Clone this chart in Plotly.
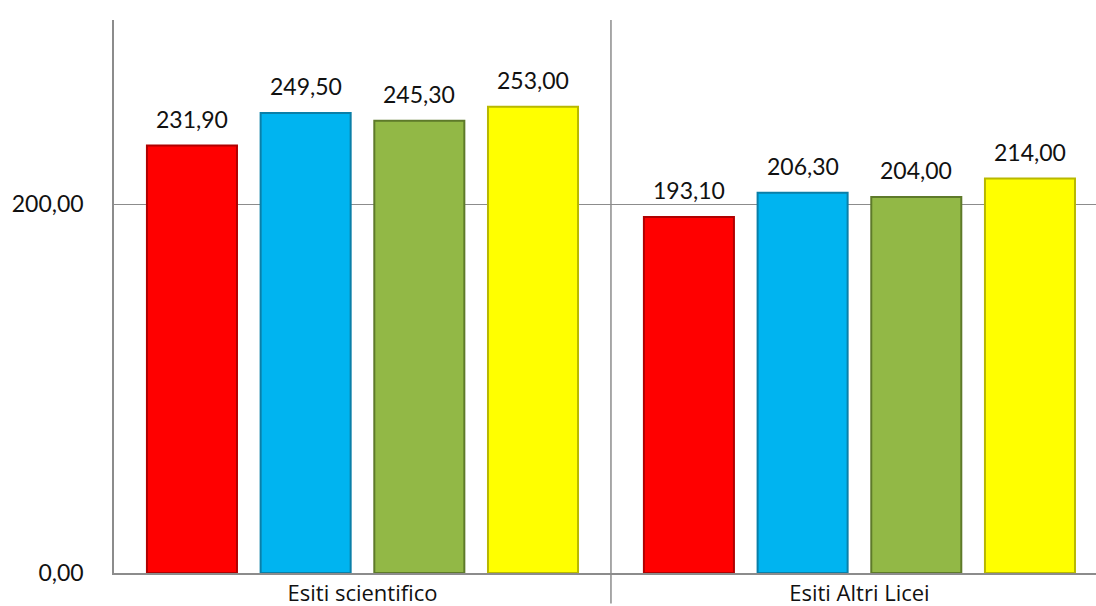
import plotly.graph_objects as go

# Results per category, one series per colour
categories = ["Esiti scientifico", "Esiti Altri Licei"]
series_names = ["Serie 1", "Serie 2", "Serie 3", "Serie 4"]
series_values = [
    [231.90, 193.10],
    [249.50, 206.30],
    [245.30, 204.00],
    [253.00, 214.00],
]
fill_colors = ["#FF0000", "#00B4F0", "#92B846", "#FFFF00"]
edge_colors = ["#B00000", "#0A7FA8", "#5E7A2A", "#B8B800"]

y_ticks = [0, 200]

BARGAP = 0.085
BARGROUPGAP = 0.208

fig = go.Figure()
for name, vals, fc, ec in zip(series_names, series_values, fill_colors, edge_colors):
    fig.add_trace(go.Bar(
        x=categories,
        y=vals,
        name=name,
        marker=dict(color=fc, line=dict(color=ec, width=2)),
    ))

# Value labels above each bar, placed at the centre of its slot in the group
n_series = len(series_values)
slot = (1 - BARGAP) / n_series
for i, vals in enumerate(series_values):
    offset = (i - (n_series - 1) / 2) * slot
    for j, v in enumerate(vals):
        fig.add_annotation(
            x=j + offset, y=v, xref="x", yref="y",
            text=f"{v:.2f}".replace(".", ","),
            showarrow=False, yanchor="bottom", yshift=11,
            font=dict(family="Lato", size=23, color="#111111"),
        )

fig.update_layout(
    width=1096,
    height=606,
    margin=dict(l=114, r=0, t=20, b=33),
    paper_bgcolor="white",
    plot_bgcolor="white",
    barmode="group",
    bargap=BARGAP,
    bargroupgap=BARGROUPGAP,
    separators=",.",
    showlegend=False,
    font=dict(family="Lato", color="#111111"),
)

fig.update_xaxes(
    type="category",
    range=[-0.5, 1.476],
    showline=True,
    linecolor="#8C8C8C",
    linewidth=1.5,
    showgrid=False,
    ticks="",
    tickfont=dict(family="Open Sans", size=22, color="#111111"),
    ticklabelstandoff=0,
)

fig.update_yaxes(
    range=[0, 300],
    tickvals=y_ticks,
    tickformat=".2f",
    showline=True,
    linecolor="#8C8C8C",
    linewidth=1.5,
    showgrid=True,
    gridcolor="#8C8C8C",
    gridwidth=1,
    zeroline=False,
    ticks="",
    ticklabelstandoff=24,
    tickfont=dict(family="Lato", size=23, color="#111111"),
)

# Divider between the two category groups, extending below the axis
fig.add_shape(
    type="line",
    xref="x", yref="paper",
    x0=0.5, x1=0.5, y0=-0.055, y1=1,
    line=dict(color="#8C8C8C", width=1.5),
)

fig.write_html("out.html")
